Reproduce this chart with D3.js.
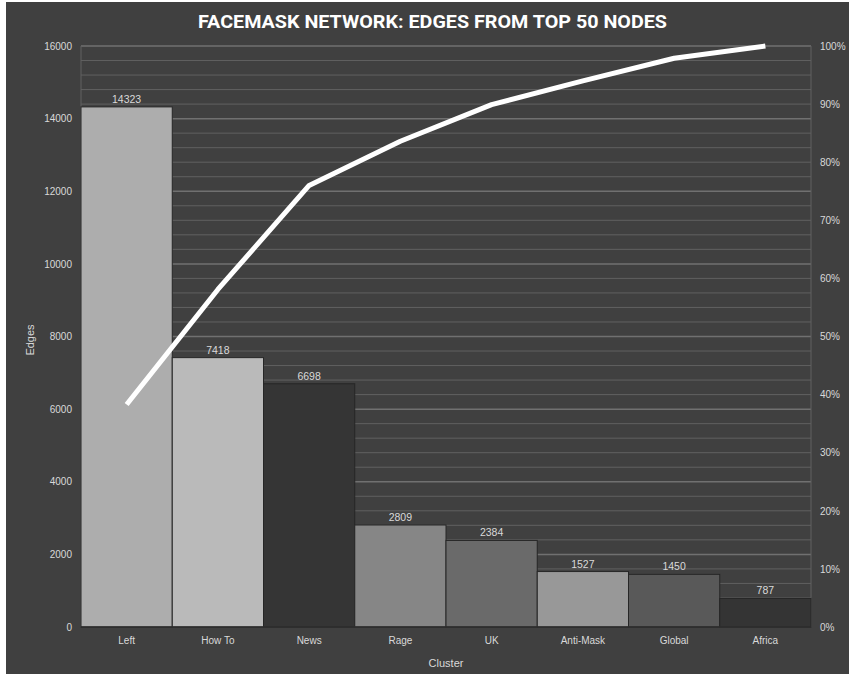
<!DOCTYPE html>
<html><head><meta charset="utf-8">
<script src="https://cdn.jsdelivr.net/npm/d3@7"></script>
<style>html,body{margin:0;padding:0;background:#fff;}svg{display:block;}</style>
</head><body>
<script>
const categories = ["Left","How To","News","Rage","UK","Anti-Mask","Global","Africa"];
const edges = [14323,7418,6698,2809,2384,1527,1450,787];
const cumulativePct = [38.3,58.1,76.0,83.6,89.9,94.0,97.9,100];
const barColors = ["#adadad","#bababa","#353535","#868686","#6a6a6a","#989898","#595959","#343434"];
const leftTicks = [0,2000,4000,6000,8000,10000,12000,14000,16000];
const rightTicks = [0,10,20,30,40,50,60,70,80,90,100];
const title = "FACEMASK NETWORK: EDGES FROM TOP 50 NODES";

const W = 849, H = 676;
const m = {l:81, r:811, t:46, b:627};
const svg = d3.select("body").append("svg").attr("width",W).attr("height",H);
svg.append("rect").attr("x",6).attr("y",2).attr("width",W-6).attr("height",672).attr("fill","#404040");

const x = d3.scaleBand().domain(categories).range([m.l,m.r]).padding(0);
const y = d3.scaleLinear().domain([0,16000]).range([m.b,m.t]);
const y2 = d3.scaleLinear().domain([0,100]).range([m.b,m.t]);

const font = "'Liberation Sans', Arial, sans-serif";
const txt = "#d9d9d9";

// gridlines minor
const minor = d3.range(0,16001,400);
svg.append("g").selectAll("line").data(minor.filter(v=>v%2000!==0)).join("line")
  .attr("x1",m.l).attr("x2",m.r).attr("y1",d=>y(d)).attr("y2",d=>y(d))
  .attr("stroke","#606060").attr("stroke-width",1);
svg.append("g").selectAll("line").data(leftTicks.filter(v=>v>0)).join("line")
  .attr("x1",m.l).attr("x2",m.r).attr("y1",d=>y(d)).attr("y2",d=>y(d))
  .attr("stroke","#707070").attr("stroke-width",1.5);
// vertical plot edges
svg.append("line").attr("x1",m.l).attr("x2",m.l).attr("y1",m.t).attr("y2",m.b).attr("stroke","#606060");
svg.append("line").attr("x1",m.r).attr("x2",m.r).attr("y1",m.t).attr("y2",m.b).attr("stroke","#606060");

// bars
svg.append("g").selectAll("rect").data(edges).join("rect")
  .attr("x",(d,i)=>x(categories[i])).attr("width",x.bandwidth())
  .attr("y",d=>y(d)).attr("height",d=>y(0)-y(d))
  .attr("fill",(d,i)=>barColors[i]).attr("stroke","#262626").attr("stroke-width",1);

// axis line
svg.append("line").attr("x1",m.l).attr("x2",m.r).attr("y1",m.b).attr("y2",m.b).attr("stroke","#2e2e2e").attr("stroke-width",1.5);

// data labels
svg.append("g").selectAll("text").data(edges).join("text")
  .attr("x",(d,i)=>x(categories[i])+x.bandwidth()/2).attr("y",d=>y(d)-4)
  .attr("text-anchor","middle").attr("font-family",font).attr("font-size",10.5).attr("fill",txt)
  .text(d=>d);

// Pareto line
const line = d3.line().x((d,i)=>x(categories[i])+x.bandwidth()/2).y(d=>y2(d));
svg.append("path").attr("d",line(cumulativePct)).attr("fill","none")
  .attr("stroke","#ffffff").attr("stroke-width",5).attr("stroke-linejoin","round");

// left axis
const gl = svg.append("g").attr("transform",`translate(${m.l-9},0)`)
  .call(d3.axisLeft(y).tickValues(leftTicks).tickSize(0).tickPadding(0).tickFormat(d3.format("d")));
gl.select(".domain").remove();
gl.selectAll("text").attr("font-family",font).attr("font-size",10).attr("fill",txt);

// right axis
const gr = svg.append("g").attr("transform",`translate(${m.r+9},0)`)
  .call(d3.axisRight(y2).tickValues(rightTicks).tickSize(0).tickPadding(0).tickFormat(d=>d+"%"));
gr.select(".domain").remove();
gr.selectAll("text").attr("font-family",font).attr("font-size",10).attr("fill",txt);

// bottom axis
const gb = svg.append("g").attr("transform",`translate(0,${m.b+10})`)
  .call(d3.axisBottom(x).tickSize(0).tickPadding(0));
gb.select(".domain").remove();
gb.selectAll("text").attr("font-family",font).attr("font-size",10).attr("fill",txt);

// axis titles
svg.append("text").attr("transform",`translate(34,340) rotate(-90)`).attr("text-anchor","middle")
  .attr("font-family",font).attr("font-size",11).attr("fill",txt).text("Edges");
svg.append("text").attr("x",(m.l+m.r)/2).attr("y",667).attr("text-anchor","middle")
  .attr("font-family",font).attr("font-size",11).attr("fill",txt).text("Cluster");

// title
svg.append("text").attr("x",432.5).attr("y",28).attr("text-anchor","middle")
  .attr("font-family","Roboto, 'DejaVu Sans', sans-serif").attr("font-weight","bold").attr("font-size",18)
  .attr("fill","#ffffff").attr("textLength",469).attr("lengthAdjust","spacingAndGlyphs").text(title);
</script>
</body></html>
